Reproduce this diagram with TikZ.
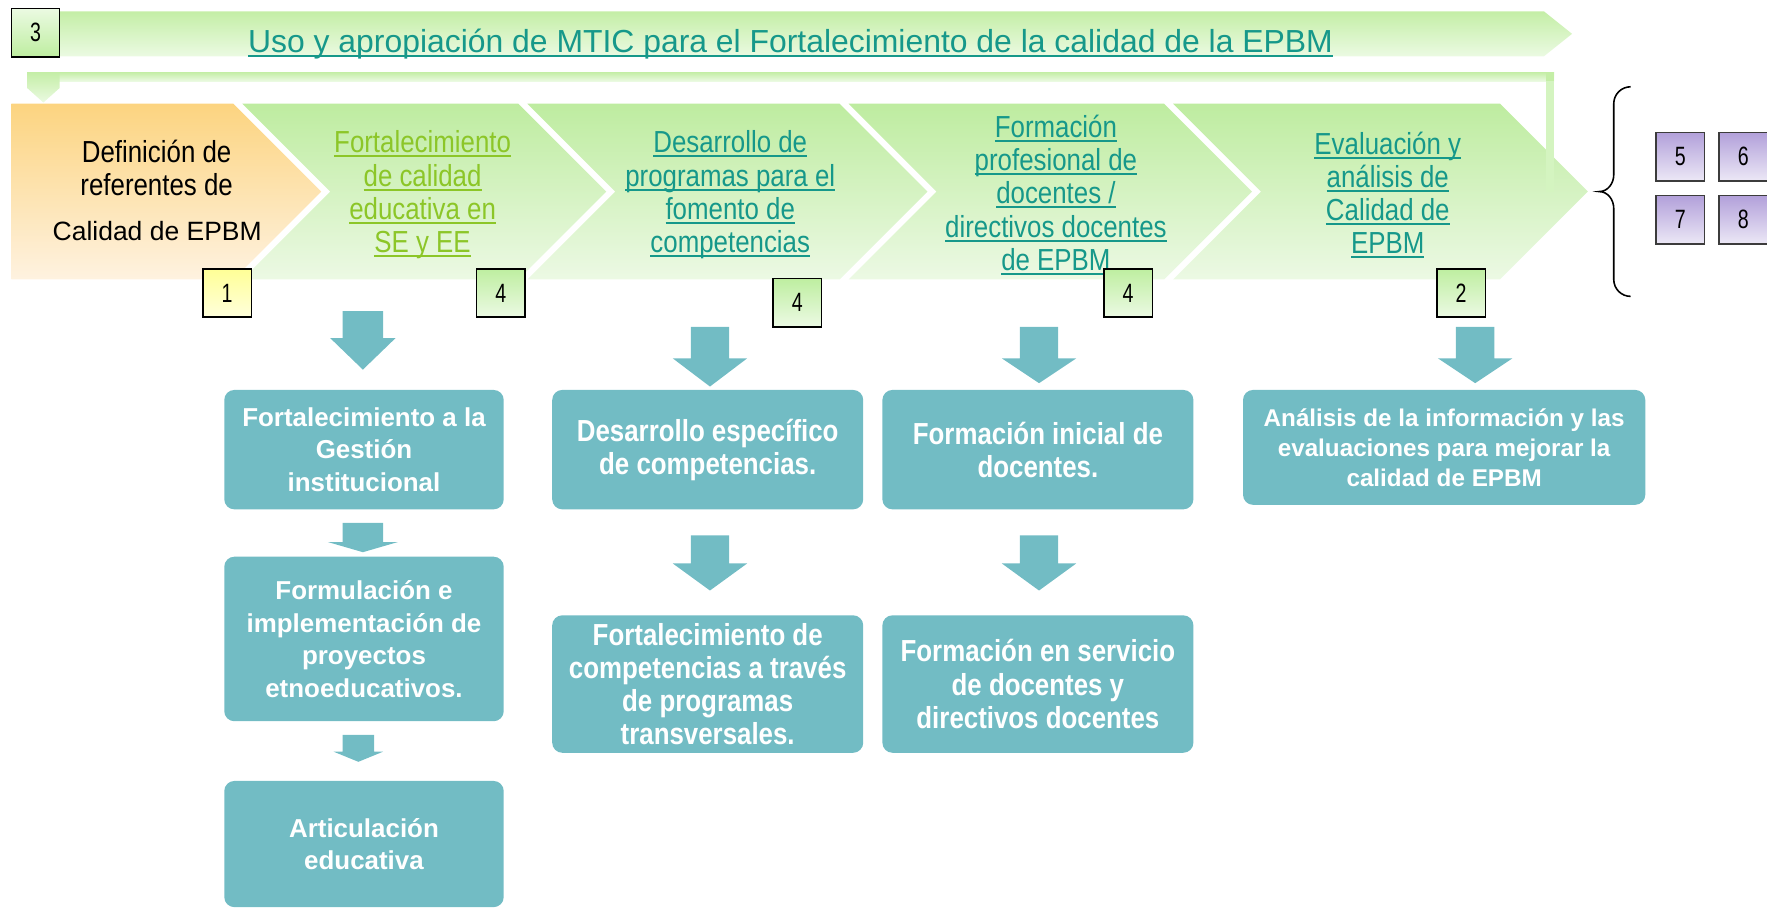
\documentclass[tikz,border=0pt]{standalone}
\usepackage{fontspec}
\setmainfont{Liberation Sans}
\newfontfamily\nar{Liberation Sans}[FakeStretch=0.85]
\newfontfamily\narnum{Liberation Sans}[FakeStretch=0.74]
\definecolor{tealbox}{RGB}{114,188,196}
\definecolor{titleteal}{RGB}{22,152,138}
\definecolor{chtwo}{RGB}{140,198,40}
\definecolor{grTop}{RGB}{190,236,160}
\definecolor{grBot}{RGB}{236,249,228}
\definecolor{orTop}{RGB}{252,212,128}
\definecolor{orBot}{RGB}{254,242,224}
\definecolor{bnTop}{RGB}{196,238,166}
\definecolor{bnBot}{RGB}{235,250,226}
\definecolor{nbTop}{RGB}{190,238,160}
\definecolor{nbBot}{RGB}{236,250,228}
\definecolor{ylTop}{RGB}{255,255,150}
\definecolor{ylBot}{RGB}{255,255,220}
\definecolor{puTop}{RGB}{178,160,218}
\definecolor{puBot}{RGB}{236,232,246}
\definecolor{vbar}{RGB}{212,244,192}
\newcommand\ulx[1]{\leavevmode\setbox0=\hbox{#1}\rlap{\copy0}\raisebox{-4pt}{\rule{\wd0}{1.8pt}}}
\newcommand\dnarr[6]{\fill[tealbox] ({#1-#3},#2) -- ({#1+#3},#2) -- ({#1+#3},#5) -- ({#1+#4},#5) -- (#1,#6) -- ({#1-#4},#5) -- ({#1-#3},#5) -- cycle;}
\begin{document}
\begin{tikzpicture}[x=1pt,y=-1pt,
  chtext/.style={align=center,inner sep=0pt,font=\nar\fontsize{27}{29.5}\selectfont},
  tbox/.style={fill=tealbox,rounded corners=9pt,text=white,align=center,inner sep=0pt,font=\bfseries\fontsize{23}{29}\selectfont},
  tboxn/.style={tbox,font=\nar\bfseries\fontsize{27}{29.5}\selectfont},
  numbox/.style={draw=black,line width=1.3pt,minimum width=43pt,minimum height=43pt,inner sep=0pt,font=\narnum\fontsize{23.5}{23.5}\selectfont},
  grbox/.style={numbox,top color=nbTop,bottom color=nbBot},
  pubox/.style={numbox,draw={rgb,255:red,60;green,60;blue,60},top color=puTop,bottom color=puBot}]
\useasboundingbox (0,0) rectangle (1568,806);
% top banner
\shade[top color=bnTop,bottom color=bnBot] (20,10) -- (1370,10) -- (1395,30) -- (1370,50) -- (20,50) -- cycle;
\node[anchor=base,inner sep=0pt,text=titleteal,font=\fontsize{28.3}{30}\selectfont] (title) at (701.5,47) {\ulx{Uso y apropiación de MTIC para el Fortalecimiento de la calidad de la EPBM}};
\node[numbox,top color=bnBot,bottom color=nbTop] (n3) at (31.5,29) {3};
% second bar
\shade[top color=bnTop,bottom color=bnBot] (25,64) rectangle (1379,72);
\shade[top color=bnTop,bottom color=bnBot] (24,64) -- (53,64) -- (53,78) -- (38.5,91) -- (24,78) -- cycle;
% chevrons
\shade[top color=orTop,bottom color=orBot] (10,92) -- (207,92) -- (285,170) -- (207,248) -- (10,248) -- cycle;
\shade[top color=grTop,bottom color=grBot] (215,92) -- (460,92) -- (538,170) -- (460,248) -- (215,248) -- (293,170) -- cycle;
\shade[top color=grTop,bottom color=grBot] (468,92) -- (745,92) -- (823,170) -- (745,248) -- (468,248) -- (546,170) -- cycle;
\shade[top color=grTop,bottom color=grBot] (753,92) -- (1033,92) -- (1111,170) -- (1033,248) -- (753,248) -- (831,170) -- cycle;
\shade[top color=grTop,bottom color=grBot] (1041,92) -- (1331,92) -- (1409,170) -- (1331,248) -- (1041,248) -- (1119,170) -- cycle;
\fill[vbar] (1372,64) rectangle (1379,170);
\fill[bnTop] (1372,64) rectangle (1379,72);
% chevron texts
\node[chtext] (c1a) at (139,149) {Definición de\\referentes de};
\node[anchor=base,inner sep=0pt,font=\fontsize{23.5}{26}\selectfont] (c1b) at (139.5,213) {Calidad de EPBM};
\node[chtext,text=chtwo] (c2) at (375,173) {\ulx{Fortalecimiento}\\\ulx{de calidad}\\\ulx{educativa en}\\\ulx{SE y EE}};
\node[chtext,text=titleteal] (c3) at (648,173) {\ulx{Desarrollo de}\\\ulx{programas para el}\\\ulx{fomento de}\\\ulx{competencias}};
\node[chtext,text=titleteal] (c4) at (937,173) {\ulx{Formación}\\\ulx{profesional de}\\\ulx{docentes /}\\\ulx{directivos docentes}\\\ulx{de EPBM}};
\node[chtext,text=titleteal] (c5) at (1231.5,173) {\ulx{Evaluación y}\\\ulx{análisis de}\\\ulx{Calidad de}\\\ulx{EPBM}};
% number boxes
\node[numbox,top color=ylTop,bottom color=ylBot] (n1) at (201.5,260) {1};
\node[grbox] (n4a) at (444.5,260) {4};
\node[grbox] (n4b) at (707.5,268.5) {4};
\node[grbox] (n4c) at (1001,260) {4};
\node[grbox] (n2) at (1296.5,260) {2};
\node[pubox] (n5) at (1491,139) {5};
\node[pubox] (n6) at (1547,139) {6};
\node[pubox] (n7) at (1491,195) {7};
\node[pubox] (n8) at (1547,195) {8};
% brace
\draw[line width=1.4pt] (1447,77) to[out=180,in=90] (1432,92) -- (1432,155) to[out=-90,in=0] (1419,170) to[out=0,in=90] (1432,185) -- (1432,248) to[out=-90,in=180] (1447,263);
% down arrows
\dnarr{322}{276}{18}{29}{300}{328}
\dnarr{322}{464}{18}{31}{481}{490}
\dnarr{318}{652}{14}{22}{667}{676}
\dnarr{630}{290}{17}{33}{318}{343}
\dnarr{630}{475}{17}{33}{500}{524}
\dnarr{922}{290}{17}{33}{318}{340}
\dnarr{922}{475}{17}{33}{500}{524}
\dnarr{1309}{290}{17}{33}{318}{340}
% teal boxes
\node[tbox,minimum width=248pt,minimum height=106pt] (g1) at (323,399) {Fortalecimiento a la\\Gestión\\institucional};
\node[tbox,minimum width=248pt,minimum height=146pt] (g2) at (323,567) {Formulación e\\implementación de\\proyectos\\etnoeducativos.};
\node[tbox,minimum width=248pt,minimum height=112pt] (g3) at (323,749) {Articulación\\educativa};
\node[tboxn,minimum width=276pt,minimum height=106pt] (d1) at (628,399) {Desarrollo específico\\de competencias.};
\node[tboxn,minimum width=276pt,minimum height=122pt] (d2) at (628,607) {Fortalecimiento de\\competencias a través\\de programas\\transversales.};
\node[tboxn,minimum width=276pt,minimum height=106pt] (f1) at (921,399) {Formación inicial de\\docentes.};
\node[tboxn,minimum width=276pt,minimum height=122pt] (f2) at (921,607) {Formación en servicio\\de docentes y\\directivos docentes};
\node[tbox,font=\bfseries\fontsize{21.5}{26.5}\selectfont,minimum width=357pt,minimum height=102pt] (e1) at (1281.5,397) {Análisis de la información y las\\evaluaciones para mejorar la\\calidad de EPBM};
\end{tikzpicture}
\end{document}
